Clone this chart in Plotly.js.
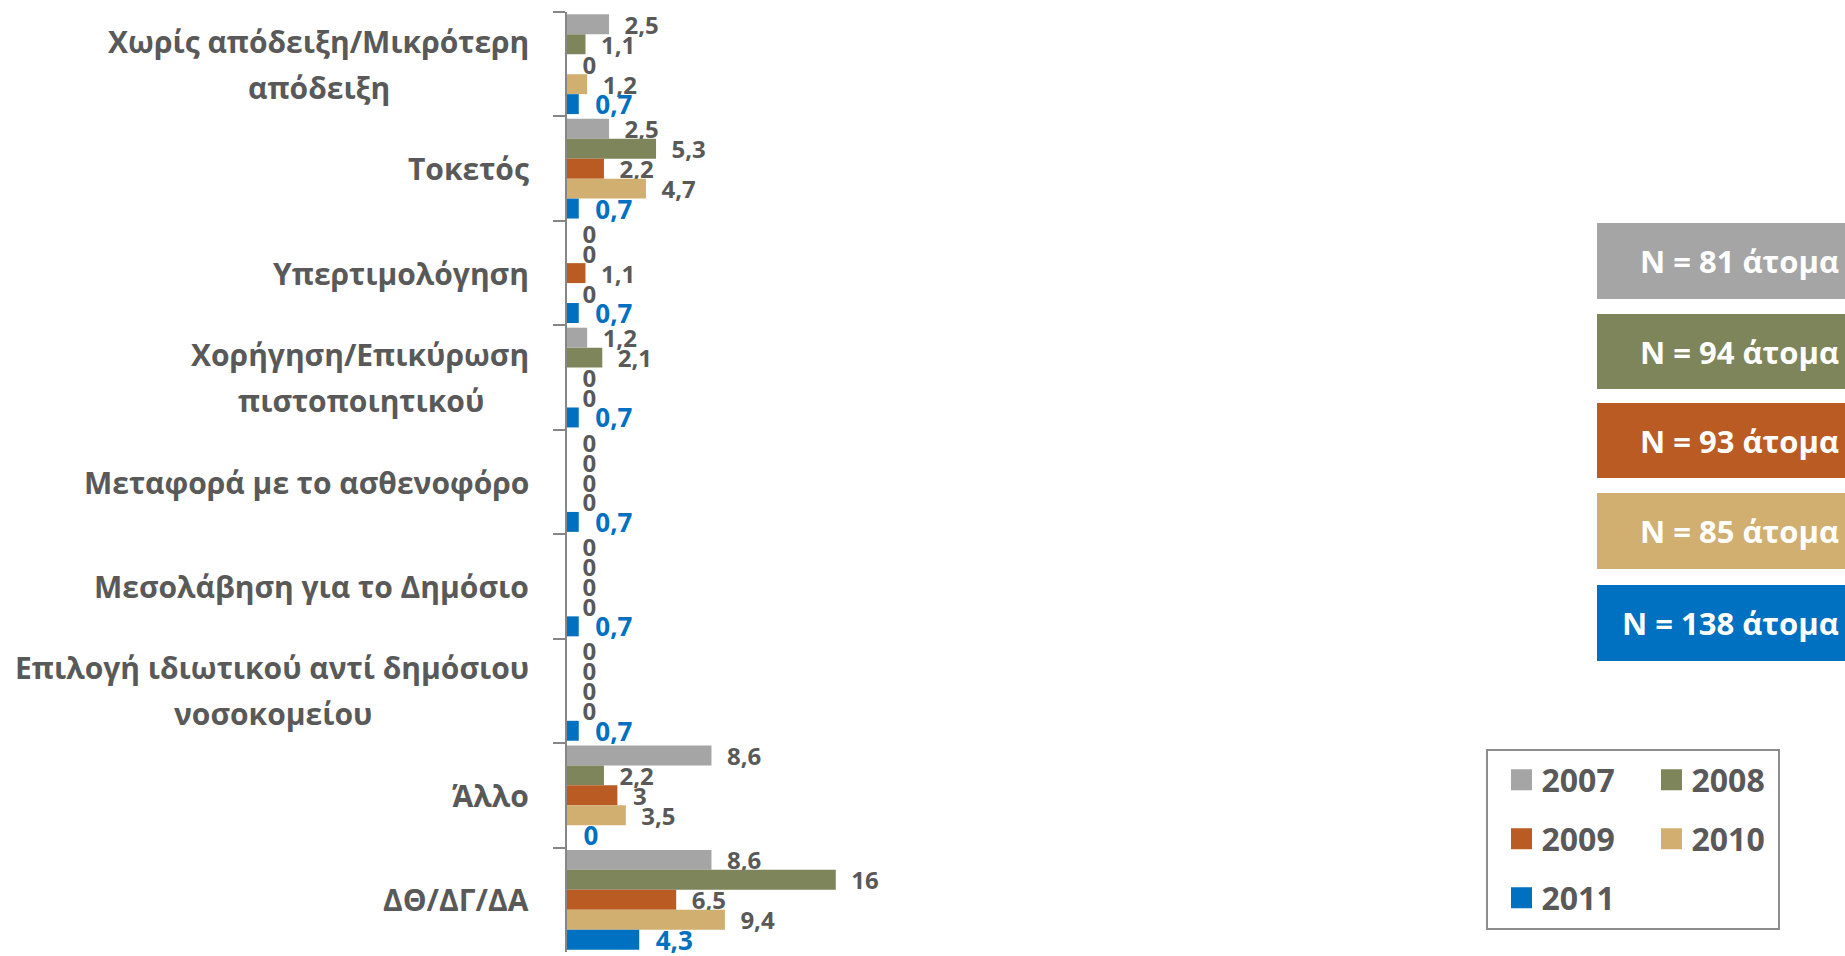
<!DOCTYPE html>
<html>
<head>
<meta charset="utf-8">
<script src="https://cdn.plot.ly/plotly-3.0.1.min.js"></script>
<style>
html,body{margin:0;padding:0;background:#ffffff;}
#chart{width:1845px;height:956px;}
</style>
</head>
<body>
<div id="chart"></div>
<script>
// ---------------- DATA ----------------
const categories = [
  'Χωρίς απόδειξη/Μικρότερη απόδειξη',
  'Τοκετός',
  'Υπερτιμολόγηση',
  'Χορήγηση/Επικύρωση πιστοποιητικού',
  'Μεταφορά με το ασθενοφόρο',
  'Μεσολάβηση για το Δημόσιο',
  'Επιλογή ιδιωτικού αντί δημόσιου νοσοκομείου',
  'Άλλο',
  'ΔΘ/ΔΓ/ΔΑ'
];
// tick labels, as wrapped in the reference (one array entry per line)
const categoryLabelLines = [
  ['Χωρίς απόδειξη/Μικρότερη', 'απόδειξη'],
  ['Τοκετός'],
  ['Υπερτιμολόγηση'],
  ['Χορήγηση/Επικύρωση', 'πιστοποιητικού'],
  ['Μεταφορά με το ασθενοφόρο'],
  ['Μεσολάβηση για το Δημόσιο'],
  ['Επιλογή ιδιωτικού αντί δημόσιου', 'νοσοκομείου'],
  ['Άλλο'],
  ['ΔΘ/ΔΓ/ΔΑ']
];
const years = ['2007', '2008', '2009', '2010', '2011'];
const v2007 = [2.5, 2.5, 0,   1.2, 0,   0,   0,   8.6, 8.6];
const v2008 = [1.1, 5.3, 0,   2.1, 0,   0,   0,   2.2, 16];
const v2009 = [0,   2.2, 1.1, 0,   0,   0,   0,   3,   6.5];
const v2010 = [1.2, 4.7, 0,   0,   0,   0,   0,   3.5, 9.4];
const v2011 = [0.7, 0.7, 0.7, 0.7, 0.7, 0.7, 0.7, 0,   4.3];
const sampleSizes = [81, 94, 93, 85, 138];

// ---------------- STYLE ----------------
const seriesValues = [v2007, v2008, v2009, v2010, v2011];
const colors = ['#A5A5A5', '#7F855A', '#BB5B24', '#D1AF71', '#0070C0'];
const labelColors = ['#595959', '#595959', '#595959', '#595959', '#0070C0'];
const labelSizes = [24, 24, 24, 24, 26];
const FONT_NAME = 'Open Sans';
const FONT = '"Open Sans", "Noto Sans", sans-serif';
const TXT = '#595959';
const CAT_SIZE = 30;

const FIG_W = 1845, FIG_H = 956;
const M = {l: 567, r: 0, t: 12, b: 4};
const PW = FIG_W - M.l - M.r, PH = FIG_H - M.t - M.b;
const PX_PER_UNIT = 16.8;
const px2x = px => (px - M.l) / PW;
const py2y = py => 1 - (py - M.t) / PH;

const pad = '\u00a0\u00a0';
const fmt = v => String(v).replace('.', ',');

// text width measurement (for centring the second line of wrapped labels)
const cvs = document.createElement('canvas');
const ctx = cvs.getContext('2d');
function textWidth(s, size) {
  ctx.font = '700 ' + size + 'px "' + FONT_NAME + '"';
  return ctx.measureText(s).width;
}

const traces = [];
seriesValues.forEach((vals, i) => {
  traces.push({
    type: 'bar',
    orientation: 'h',
    name: years[i],
    y: categories,
    x: vals,
    marker: {color: colors[i]},
    text: vals.map(v => pad + fmt(v)),
    textposition: 'outside',
    textfont: {family: FONT, size: labelSizes[i], color: labelColors[i], weight: 700},
    constraintext: 'none',
    cliponaxis: false,
    showlegend: false,
    hoverinfo: 'x+y+name'
  });
});

// legend entries (three rows, two columns)
const legendRows = [[0, 1], [2, 3], [4]];
const legendRowY = [780, 839, 898];
const legendIds = ['legend', 'legend2', 'legend3'];
legendRows.forEach((row, r) => {
  row.forEach(i => {
    traces.push({
      type: 'scatter',
      mode: 'markers',
      name: years[i],
      x: [null], y: [null],
      marker: {symbol: 'square', size: 16, color: colors[i], line: {color: colors[i], width: 5}},
      legend: legendIds[r],
      showlegend: true,
      hoverinfo: 'skip'
    });
  });
});

const layout = {
  width: FIG_W, height: FIG_H,
  margin: M,
  paper_bgcolor: '#ffffff',
  plot_bgcolor: '#ffffff',
  font: {family: FONT, color: TXT},
  barmode: 'group',
  bargap: 0.045,
  bargroupgap: 0,
  showlegend: true,
  xaxis: {
    range: [0, PW / PX_PER_UNIT],
    visible: false,
    showgrid: false, zeroline: false
  },
  yaxis: {
    type: 'category',
    autorange: 'reversed',
    showticklabels: false,
    ticks: 'outside',
    tickson: 'boundaries',
    ticklen: 12,
    tickwidth: 2,
    tickcolor: '#868686',
    showline: true,
    linecolor: '#868686',
    linewidth: 2,
    showgrid: false
  },
  annotations: [],
  shapes: []
};

legendIds.forEach((id, r) => {
  layout[id] = {
    orientation: 'h',
    x: px2x(1501.5), xanchor: 'left',
    y: py2y(legendRowY[r]), yanchor: 'middle',
    bgcolor: 'rgba(0,0,0,0)',
    borderwidth: 0,
    entrywidth: 105,
    font: {family: FONT, size: 32, color: TXT, weight: 700}
  };
});

// legend frame
layout.shapes.push({
  type: 'rect', xref: 'paper', yref: 'paper',
  x0: px2x(1487), x1: px2x(1779), y0: py2y(929), y1: py2y(750),
  line: {color: '#8C8C8C', width: 2}, fillcolor: 'rgba(0,0,0,0)'
});

// category labels (right edge of the label block 37px left of the axis)
const LABEL_SHIFT = -36;
const LINE_HALF = 23;
categoryLabelLines.forEach((lines, i) => {
  const font = {family: FONT, size: CAT_SIZE, color: TXT, weight: 700};
  if (lines.length === 1) {
    layout.annotations.push({
      text: lines[0], xref: 'paper', x: 0, xshift: LABEL_SHIFT, xanchor: 'right',
      yref: 'y', y: categories[i], yanchor: 'middle', showarrow: false, font: font
    });
  } else {
    const w1 = textWidth(lines[0], CAT_SIZE);
    layout.annotations.push({
      text: lines[0], xref: 'paper', x: 0, xshift: LABEL_SHIFT, xanchor: 'right',
      yref: 'y', y: categories[i], yanchor: 'middle', yshift: LINE_HALF,
      showarrow: false, font: font
    });
    layout.annotations.push({
      text: lines[1], xref: 'paper', x: 0, xshift: LABEL_SHIFT - 1 - w1 / 2, xanchor: 'center',
      yref: 'y', y: categories[i], yanchor: 'middle', yshift: -LINE_HALF,
      showarrow: false, font: font
    });
  }
});

// N boxes
const boxTop = [223, 314, 403, 493, 585];
const boxBottom = [299, 389, 478, 569, 661];
sampleSizes.forEach((n, i) => {
  layout.shapes.push({
    type: 'rect', xref: 'paper', yref: 'paper',
    x0: px2x(1597), x1: px2x(1870), y0: py2y(boxBottom[i]), y1: py2y(boxTop[i]),
    line: {width: 0}, fillcolor: colors[i], layer: 'above'
  });
  layout.annotations.push({
    text: 'N = ' + n + ' άτομα',
    xref: 'paper', x: px2x(1841), xanchor: 'right',
    yref: 'paper', y: py2y((boxTop[i] + boxBottom[i]) / 2), yanchor: 'middle',
    showarrow: false,
    font: {family: FONT, size: 31, color: '#ffffff', weight: 700}
  });
});

Plotly.newPlot('chart', traces, layout, {displayModeBar: false, staticPlot: true});
</script>
</body>
</html>
